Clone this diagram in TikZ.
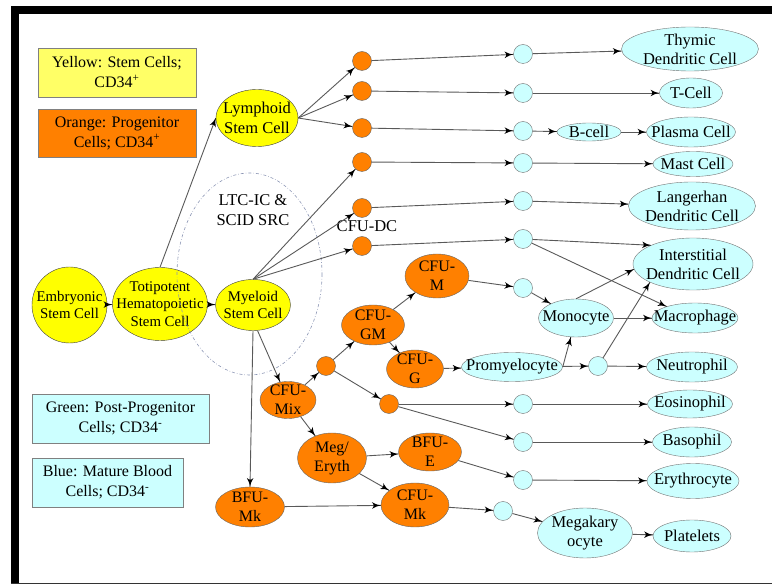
\documentclass[tikz,border=0pt]{standalone}
\usepackage{fontspec}
\setmainfont{Liberation Serif}
\usetikzlibrary{arrows}
\usetikzlibrary{decorations.markings}
\usetikzlibrary{shapes.geometric}
\definecolor{stemyellow}{HTML}{FFFF00}
\definecolor{keyyellow}{HTML}{FFFF66}
\definecolor{progorange}{HTML}{FF8000}
\definecolor{postcyan}{HTML}{CCFFFF}
\definecolor{ringblue}{HTML}{8C96B4}
\tikzset{->/.style = {draw=black!65, line width=0.9pt,
                      decoration={markings,
                                  mark=at position 1 with {\arrow[scale=1.6, black]{latex'}}},
                      postaction={decorate}}}
\tikzset{stemcell/.style = {ellipse, draw=black!75, fill=stemyellow, inner xsep=-20pt, inner ysep=-10pt,
                            align=center, font=\fontsize{14.8}{17.5}\selectfont}}
\tikzset{progcell/.style = {ellipse, draw=black!60, fill=progorange, inner xsep=-20pt, inner ysep=-10pt,
                            align=center, font=\fontsize{16}{19}\selectfont}}
\tikzset{postcell/.style = {ellipse, draw=black!55, fill=postcyan, inner xsep=-20pt, inner ysep=-10pt,
                            align=center, font=\fontsize{16.5}{19}\selectfont}}
\tikzset{progdot/.style = {circle, draw=black!60, fill=progorange, inner sep=0, minimum size=19}}
\tikzset{postdot/.style = {circle, draw=black!55, fill=postcyan, inner sep=0, minimum size=19}}
\tikzset{keybox/.style = {rectangle, draw=black!50, inner sep=0, align=center,
                          font=\fontsize{16}{20}\selectfont}}
\tikzset{dims/.style 2 args = {minimum width=#1, minimum height=#2}}
\tikzset{ltcring/.style = {draw=ringblue, line width=0.6pt, dash pattern=on 3pt off 2pt on 0.6pt off 2pt}}

\begin{document}
\begin{tikzpicture}[x=1pt, y=-1pt]
      \useasboundingbox (0,0) rectangle (772,585);
      \fill [black] (11,6) rectangle (772,14);
      \fill [black] (11,6) rectangle (19,584);
      \draw [black!80, line width=1.5pt] (11,583.5) -- (772,583.5);

      \node [keybox, fill=keyyellow, dims={158}{49}] (keystem) at (117,72.5) {Yellow: Stem Cells;\\CD34\textsuperscript{+}};
      \node [keybox, fill=progorange, dims={158}{48}] (keyprog) at (117,133) {Orange: Progenitor\\Cells; CD34\textsuperscript{+}};
      \node [keybox, fill=postcyan, dims={177}{49}] (keypost) at (120.5,418.5) {Green: Post-Progenitor\\Cells; CD34\textsuperscript{-}};
      \node [keybox, fill=postcyan, dims={151}{49}] (keymature) at (107.5,482.5) {Blue: Mature Blood\\Cells; CD34\textsuperscript{-}};

      \node [stemcell, dims={75}{76}] (embryo) at (69.5,305) {Embryonic\\Stem Cell};
      \node [stemcell, dims={95}{73}] (toti) at (160,304) {Totipotent\\Hematopoietic\\Stem Cell};
      \node [stemcell, dims={75}{51}] (myel) at (253,305) {Myeloid\\Stem Cell};
      \node [stemcell, dims={82}{57}, font=\fontsize{16.5}{20}\selectfont] (lymph) at (257,118) {Lymphoid\\Stem Cell};

      \node [progcell, dims={64}{44}] (cfum) at (437,276) {CFU-\\M};
      \node [progcell, dims={63}{40}] (cfugm) at (373,325) {CFU-\\GM};
      \node [progcell, dims={57}{38}] (cfug) at (415,369) {CFU-\\G};
      \node [progcell, dims={56}{37}] (cfumix) at (288,400) {CFU-\\Mix};
      \node [progcell, dims={69}{50}] (megeryth) at (332,458) {Meg/\\Eryth};
      \node [progcell, dims={63}{38}] (bfue) at (430,452) {BFU-\\E};
      \node [progcell, dims={69}{40}] (bfumk) at (250,507) {BFU-\\Mk};
      \node [progcell, dims={68}{44}] (cfumk) at (415,505) {CFU-\\Mk};

      \node [progdot] (o1) at (362,61) {};
      \node [progdot] (o2) at (362,91) {};
      \node [progdot] (o3) at (362,128) {};
      \node [progdot] (o4) at (362,162) {};
      \node [progdot] (o5) at (362,208) {};
      \node [progdot] (o6) at (362,246) {};
      \node [progdot] (ogm) at (326,366) {};
      \node [progdot] (oeb) at (389,404) {};

      \node [postdot] (c1) at (523,54) {};
      \node [postdot] (c2) at (523,93) {};
      \node [postdot] (c3) at (523,131) {};
      \node [postdot] (c4) at (523,163) {};
      \node [postdot] (c5) at (523,201) {};
      \node [postdot] (c6) at (523,239) {};
      \node [postdot] (c7) at (523,288) {};
      \node [postdot] (cneu) at (598,366) {};
      \node [postdot] (ceos) at (523,404) {};
      \node [postdot] (cbas) at (523,442) {};
      \node [postdot] (cery) at (523,480) {};
      \node [postdot] (cmk) at (503,511) {};

      \node [postcell, dims={137}{44}] (thymic) at (690,49) {Thymic\\Dendritic Cell};
      \node [postcell, dims={63}{30}] (tcell) at (691,93) {T-Cell};
      \node [postcell, dims={64}{18}] (bcell) at (589,132) {B-cell};
      \node [postcell, dims={89}{30}] (plasma) at (691,132) {Plasma Cell};
      \node [postcell, dims={80}{25}] (mast) at (693,164) {Mast Cell};
      \node [postcell, dims={127}{48}] (langer) at (692,206) {Langerhan\\Dendritic Cell};
      \node [postcell, dims={120}{52}] (inter) at (693,264) {Interstitial\\Dendritic Cell};
      \node [postcell, dims={75}{38}] (mono) at (576,318) {Monocyte};
      \node [postcell, dims={86}{30}] (macro) at (695,318) {Macrophage};
      \node [postcell, dims={101}{29}] (promy) at (512,367) {Promyelocyte};
      \node [postcell, dims={91}{30}] (neutro) at (692,367) {Neutrophil};
      \node [postcell, dims={85}{28}] (eosino) at (690,404) {Eosinophil};
      \node [postcell, dims={79}{30}] (baso) at (692,442) {Basophil};
      \node [postcell, dims={92}{35}] (ery) at (693,481) {Erythrocyte};
      \node [postcell, dims={95}{50}] (mega) at (585,533) {Megakary\\ocyte};
      \node [postcell, dims={78}{32}] (plate) at (692,536) {Platelets};

      \node [align=center, font=\fontsize{16.5}{20}\selectfont] (ltc) at (253,210) {LTC-IC \&\\SCID SRC};
      \node [font=\fontsize{16.5}{20}\selectfont] (cfudc) at (367,226) {CFU-DC};
      \draw [ltcring] (249.5,274) ellipse [x radius=72.5, y radius=101];

      \draw [->] (embryo) -- (toti);
      \draw [->] (toti) -- (myel);
      \draw [->] (toti.north) -- (lymph.west);
      \draw [->] (lymph.east) -- (o1);
      \draw [->] (lymph.east) -- (o2);
      \draw [->] (lymph.east) -- (o3);
      \draw [->] (myel.north) -- (o4);
      \draw [->] (myel.north) -- (o5);
      \draw [->] (myel.north) -- (o6);
      \draw [->] (myel.south) -- (bfumk.north);
      \draw [->] (myel.-80) -- (cfumix);
      \draw [->] (cfumix) -- (ogm);
      \draw [->] (ogm) -- (cfugm);
      \draw [->] (ogm) -- (oeb);
      \draw [->] (cfugm) -- (cfum);
      \draw [->] (cfugm) -- (cfug);
      \draw [->] (cfumix) -- (megeryth);
      \draw [->] (megeryth) -- (bfue);
      \draw [->] (megeryth) -- (cfumk);
      \draw [->] (bfumk) -- (cfumk);
      \draw [->] (cfumk) -- (cmk);
      \draw [->] (cmk) -- (mega);
      \draw [->] (mega) -- (plate);
      \draw [->] (bfue) -- (cery);
      \draw [->] (oeb) -- (ceos);
      \draw [->] (oeb) -- (cbas);
      \draw [->] (ceos) -- (eosino);
      \draw [->] (cbas) -- (baso);
      \draw [->] (cery) -- (ery);
      \draw [->] (cfug) -- (promy);
      \draw [->] (promy) -- (cneu);
      \draw [->] (promy.east) -- (mono);
      \draw [->] (cneu) -- (neutro);
      \draw [->] (cneu) -- (inter.203);
      \draw [->] (cfum) -- (c7);
      \draw [->] (c7) -- (mono);
      \draw [->] (mono) -- (macro);
      \draw [->] (mono.north) -- (inter.185);
      \draw [->] (o1) -- (c1);
      \draw [->] (o2) -- (c2);
      \draw [->] (o3) -- (c3);
      \draw [->] (o4) -- (c4);
      \draw [->] (o5) -- (c5);
      \draw [->] (o6) -- (c6);
      \draw [->] (c1) -- (thymic);
      \draw [->] (c2) -- (tcell);
      \draw [->] (c3) -- (bcell);
      \draw [->] (bcell) -- (plasma);
      \draw [->] (c4) -- (mast);
      \draw [->] (c5) -- (langer);
      \draw [->] (c6) -- (inter.156);
      \draw [->] (c6) -- (macro.158);
    \end{tikzpicture}
\end{document}
